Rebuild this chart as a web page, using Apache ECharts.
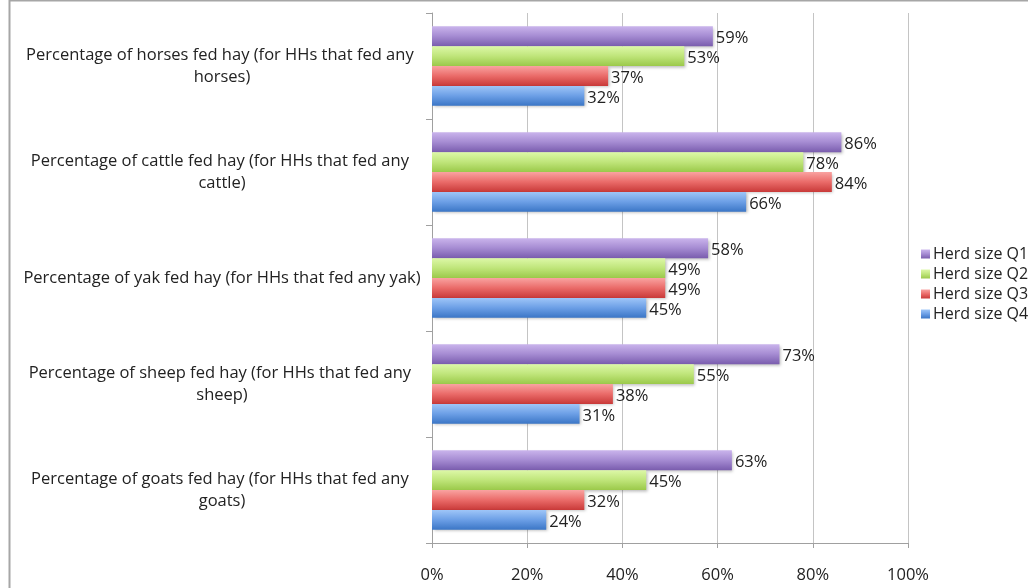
<!DOCTYPE html>
<html>
<head>
<meta charset="utf-8">
<script src="https://cdn.jsdelivr.net/npm/echarts@6/dist/echarts.min.js"></script>
<style>
  html, body { margin: 0; padding: 0; background: #fff; }
  #chart { width: 1028px; height: 588px; }
</style>
</head>
<body>
<div id="chart"></div>
<script>
// Share of animals fed hay, by herd-size quartile
const categories = [
  'Percentage of horses fed hay (for HHs that fed any horses)',
  'Percentage of cattle fed hay (for HHs that fed any cattle)',
  'Percentage of yak fed hay (for HHs that fed any yak)',
  'Percentage of sheep fed hay (for HHs that fed any sheep)',
  'Percentage of goats fed hay (for HHs that fed any goats)'
];
const seriesNames = ['Herd size Q1', 'Herd size Q2', 'Herd size Q3', 'Herd size Q4'];
const q1 = [59, 86, 58, 73, 63];
const q2 = [53, 78, 49, 55, 45];
const q3 = [37, 84, 49, 38, 32];
const q4 = [32, 66, 45, 31, 24];
const xTicks = [0, 20, 40, 60, 80, 100];

const FONT = '"Open Sans", Lato, sans-serif';

// light-to-dark vertical fills per series
const fills = [
  ['#cab4ec', '#a58bd2', '#7a5dae'],
  ['#ddf8a8', '#bfe57a', '#9bc94a'],
  ['#f9a3a1', '#ea6b69', '#c93a39'],
  ['#9fc6f8', '#6c9fe6', '#3b76c6']
];
function grad(c) {
  return new echarts.graphic.LinearGradient(0, 0, 0, 1, [
    { offset: 0, color: c[0] },
    { offset: 0.5, color: c[1] },
    { offset: 1, color: c[2] }
  ]);
}

const dataSets = [q1, q2, q3, q4];
const series = seriesNames.map((name, i) => ({
  name: name,
  type: 'bar',
  data: dataSets[i],
  barGap: '0%',
  barCategoryGap: '25%',
  itemStyle: {
    color: grad(fills[i]),
    shadowColor: 'rgba(0,0,0,0.28)',
    shadowBlur: 3,
    shadowOffsetX: 1.5,
    shadowOffsetY: 1.5
  },
  label: {
    show: true,
    position: 'right',
    distance: 3,
    offset: [0, 2],
    formatter: '{c}%',
    fontFamily: FONT,
    fontSize: 16.5,
    color: '#222'
  }
}));

const chart = echarts.init(document.getElementById('chart'), null, { renderer: 'canvas' });
chart.setOption({
  animation: false,
  backgroundColor: '#fff',
  textStyle: { fontFamily: FONT },
  graphic: [{
    type: 'rect',
    shape: { x: 9.5, y: 0.5, width: 1040, height: 620 },
    style: { fill: 'none', stroke: '#a6a6a6', lineWidth: 2 },
    silent: true
  }],
  legend: {
    orient: 'vertical',
    left: 916,
    top: 241,
    itemWidth: 9,
    itemHeight: 9,
    itemGap: 4,
    icon: 'rect',
    textStyle: { fontFamily: FONT, fontSize: 16, color: '#222', padding: [0, 0, 0, -2] },
    data: seriesNames
  },
  grid: { left: 432, right: 120, top: 13, bottom: 45, containLabel: false },
  xAxis: {
    type: 'value',
    min: xTicks[0],
    max: xTicks[xTicks.length - 1],
    interval: 20,
    axisLine: { show: true, lineStyle: { color: '#a0a0a0', width: 1 } },
    axisTick: { show: true, length: 5, lineStyle: { color: '#a0a0a0' } },
    splitLine: { show: true, lineStyle: { color: '#c4c4c4', width: 1 } },
    axisLabel: {
      formatter: '{value}%',
      margin: 24,
      fontFamily: FONT,
      fontSize: 16.5,
      color: '#222'
    }
  },
  yAxis: {
    type: 'category',
    inverse: true,
    data: categories,
    axisLine: { show: true, lineStyle: { color: '#a0a0a0', width: 1 } },
    axisTick: { show: true, length: 6, lineStyle: { color: '#a0a0a0' } },
    axisLabel: {
      interval: 0,
      margin: 210,
      align: 'center',
      width: 405,
      overflow: 'break',
      lineHeight: 22,
      padding: [5, 0, 0, 0],
      fontFamily: FONT,
      fontSize: 16.5,
      color: '#222'
    }
  },
  series: series
});
</script>
</body>
</html>
